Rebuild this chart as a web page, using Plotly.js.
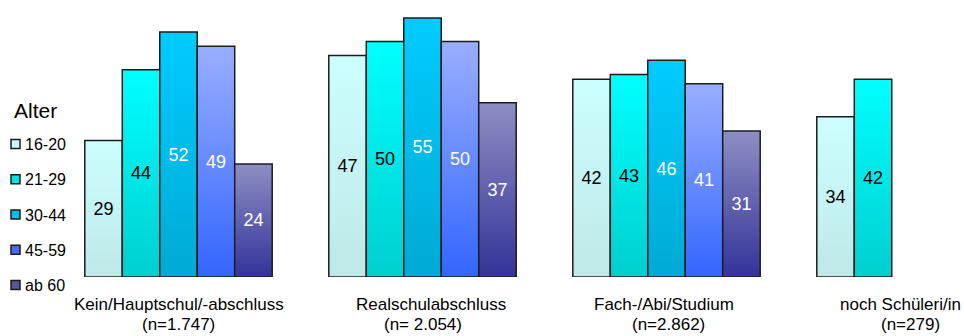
<!DOCTYPE html>
<html>
<head>
<meta charset="utf-8">
<script src="https://cdn.plot.ly/plotly-3.0.1.min.js"></script>
<style>
  html, body { margin: 0; padding: 0; background: #fff; }
  #chart { width: 964px; height: 336px; }
</style>
</head>
<body>
<div id="chart"></div>
<script>
// Education groups (x categories) and their sample sizes
const groupNames = ['Kein/Hauptschul/-abschluss', 'Realschulabschluss', 'Fach-/Abi/Studium', 'noch Schüleri/in'];
const groupN     = ['(n=1.747)', '(n= 2.054)', '(n=2.862)', '(n=279)'];

// Age bands (series)
const ageBands = ['16-20', '21-29', '30-44', '45-59', 'ab 60'];

// Values per age band, one entry per education group
const v16_20 = [29, 47, 42, 34];
const v21_29 = [44, 50, 43, 42];
const v30_44 = [52, 55, 46, null];
const v45_59 = [49, 50, 41, null];
const vAb60  = [24, 37, 31, null];

const seriesValues = [v16_20, v21_29, v30_44, v45_59, vAb60];

// Styling per age band: legend swatch, vertical gradient (top -> bottom), label colour
const swatch    = ['#CCF7F7', '#00E3E3', '#00BDE8', '#4A6AFF', '#555599'];
const gradTop   = ['#CCFFFF', '#00FFFF', '#00CCFF', '#99AEFF', '#8E8EC4'];
const gradBot   = ['#BFE8E8', '#00CFCF', '#00AAD4', '#3366FF', '#333399'];
const textColor = ['#000000', '#000000', '#FFFFFF', '#FFFFFF', '#FFFFFF'];

// horizontal nudges (px) of the two category label lines
const nameShift = [0, 8, -3, -10];
const nShift    = [0, 0, 2, 0];

const FONT = 'Liberation Sans, Arial, sans-serif';

const traces = ageBands.map((band, i) => ({
  type: 'bar',
  name: band,
  legendgroup: 'g' + i,
  x: groupNames,
  y: seriesValues[i],
  texttemplate: '%{y}',
  textposition: 'inside',
  insidetextanchor: 'middle',
  textangle: 0,
  textfont: { family: FONT, size: 18, color: textColor[i] },
  marker: { color: swatch[i], line: { color: '#1c1c1c', width: 1.5 } },
  hoverinfo: 'skip'
}));

// category spacing is 244px; first group centred at 178.5px
const pxPerCat = 244;
const x0 = -178.5 / pxPerCat;
const x1 = x0 + 964 / pxPerCat;
const plotH = 277;

// category labels below the bars, two lines each
const annotations = [];
groupNames.forEach((name, k) => {
  annotations.push({
    x: name, xref: 'x', y: 0, yref: 'paper',
    yanchor: 'middle', yshift: -27, xshift: nameShift[k],
    text: name, showarrow: false,
    font: { family: FONT, size: 17, color: '#000' }
  });
  annotations.push({
    x: name, xref: 'x', y: 0, yref: 'paper',
    yanchor: 'middle', yshift: -47, xshift: nShift[k],
    text: groupN[k], showarrow: false,
    font: { family: FONT, size: 17, color: '#000' }
  });
});

// legend heading
annotations.push({
  x: 12 / 964, xref: 'paper', xanchor: 'left',
  y: 1 - 111 / plotH, yref: 'paper', yanchor: 'middle',
  text: 'Alter', showarrow: false,
  font: { family: FONT, size: 21, color: '#000' }
});

const layout = {
  width: 964,
  height: 336,
  margin: { l: 0, r: 0, t: 0, b: 59 },
  paper_bgcolor: '#ffffff',
  plot_bgcolor: '#ffffff',
  barmode: 'group',
  bargap: 0.232,
  bargroupgap: 0,
  font: { family: FONT, color: '#000' },
  xaxis: {
    type: 'category',
    range: [x0, x1],
    showgrid: false,
    showline: false,
    zeroline: false,
    ticks: '',
    showticklabels: false,
    fixedrange: true
  },
  yaxis: {
    visible: false,
    range: [0, 58.8],
    fixedrange: true
  },
  annotations: annotations,
  showlegend: true,
  legend: {
    x: 0, xanchor: 'left',
    y: 1 - 127 / plotH, yanchor: 'top',
    bgcolor: 'rgba(0,0,0,0)',
    font: { family: FONT, size: 16, color: '#000' },
    traceorder: 'grouped',
    tracegroupgap: 11.5
  }
};

// replace flat bar fills with vertical gradients and tighten legend entries
function decorate(gd) {
  const svg = gd.querySelector('svg.main-svg');
  if (!svg) return;
  let defs = svg.querySelector('defs');
  if (!defs) {
    defs = document.createElementNS('http://www.w3.org/2000/svg', 'defs');
    svg.insertBefore(defs, svg.firstChild);
  }
  ageBands.forEach((b, i) => {
    const id = 'barGrad' + i;
    if (defs.querySelector('#' + id)) return;
    const lg = document.createElementNS('http://www.w3.org/2000/svg', 'linearGradient');
    lg.setAttribute('id', id);
    lg.setAttribute('x1', '0'); lg.setAttribute('y1', '0');
    lg.setAttribute('x2', '0'); lg.setAttribute('y2', '1');
    const s1 = document.createElementNS('http://www.w3.org/2000/svg', 'stop');
    s1.setAttribute('offset', '0'); s1.setAttribute('stop-color', gradTop[i]);
    const s2 = document.createElementNS('http://www.w3.org/2000/svg', 'stop');
    s2.setAttribute('offset', '1'); s2.setAttribute('stop-color', gradBot[i]);
    lg.appendChild(s1); lg.appendChild(s2);
    defs.appendChild(lg);
  });
  gd.querySelectorAll('.barlayer .trace.bars').forEach((tg, i) => {
    tg.querySelectorAll('.point path').forEach(p => {
      p.style.fill = 'url(#barGrad' + i + ')';
    });
  });
  // smaller swatches, text closer to them
  gd.querySelectorAll('.legend .legendpoints path').forEach(p => {
    p.setAttribute('d', 'M0,4.5H-9V-4.5H0Z');
  });
  gd.querySelectorAll('.legend text.legendtext').forEach(t => {
    t.setAttribute('x', '25');
    t.querySelectorAll('tspan.line').forEach(s => s.setAttribute('x', '25'));
  });
}

const gd = document.getElementById('chart');
Plotly.newPlot(gd, traces, layout, { staticPlot: true, displayModeBar: false })
  .then(() => decorate(gd));
gd.on && gd.on('plotly_afterplot', () => decorate(gd));
</script>
</body>
</html>
